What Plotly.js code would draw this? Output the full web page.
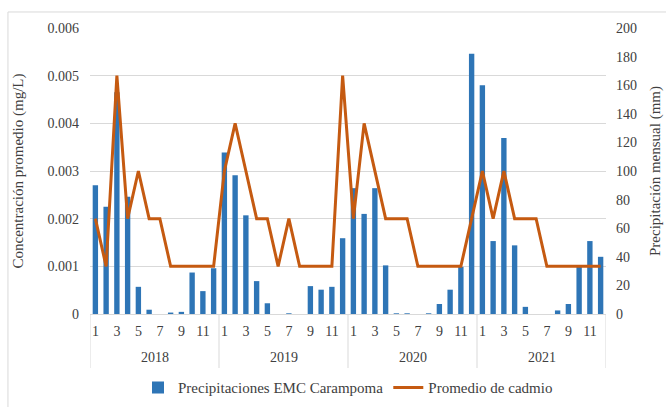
<!DOCTYPE html>
<html>
<head>
<meta charset="utf-8">
<script src="https://cdn.plot.ly/plotly-3.0.1.min.js"></script>
<style>
html,body{margin:0;padding:0;background:#fff;}
#chart{width:666px;height:407px;}
</style>
</head>
<body>
<div id="chart"></div>
<script>
var years = ['2018', '2019', '2020', '2021'];
var months = [1, 2, 3, 4, 5, 6, 7, 8, 9, 10, 11, 12];

// Precipitaciones EMC Carampoma (mm), one array per year
var precip2018 = [90, 75, 155, 82, 19, 3, 0, 1, 1.5, 29, 16, 32];
var precip2019 = [113, 97, 69, 23, 7.5, 0, 0.5, 0, 19.5, 17, 19, 53];
var precip2020 = [88, 70, 88, 34, 0.5, 0.5, 0, 0.5, 7, 17, 33, 182];
var precip2021 = [160, 51, 123, 48, 5, 0, 0, 2.5, 7, 33, 51, 40];

// Promedio de cadmio (mg/L), one array per year
var cd2018 = [0.002, 0.001, 0.005, 0.002, 0.003, 0.002, 0.002, 0.001, 0.001, 0.001, 0.001, 0.001];
var cd2019 = [0.003, 0.004, 0.003, 0.002, 0.002, 0.001, 0.002, 0.001, 0.001, 0.001, 0.001, 0.005];
var cd2020 = [0.002, 0.004, 0.003, 0.002, 0.002, 0.002, 0.001, 0.001, 0.001, 0.001, 0.001, 0.002];
var cd2021 = [0.003, 0.002, 0.003, 0.002, 0.002, 0.002, 0.001, 0.001, 0.001, 0.001, 0.001, 0.001];

var precip = [].concat(precip2018, precip2019, precip2020, precip2021);
var cadmio = [].concat(cd2018, cd2019, cd2020, cd2021);

var xs = [], tickvals = [], ticktext = [];
years.forEach(function (y, yi) {
  months.forEach(function (m, mi) {
    var idx = yi * months.length + mi;
    xs.push(idx);
    if (m % 2 === 1) { tickvals.push(idx); ticktext.push(String(m)); }
  });
});

var FONT = 'Liberation Serif';
var TXT = '#404040';
var GRID = '#d9d9d9';

var bars = {
  type: 'bar', x: xs, y: precip, name: 'Precipitaciones EMC Carampoma',
  marker: { color: '#2E75B6' }, yaxis: 'y', hoverinfo: 'skip'
};
var line = {
  type: 'scatter', mode: 'lines', x: xs, y: cadmio, name: 'Promedio de cadmio',
  line: { color: '#C55A11', width: 3 }, yaxis: 'y2', hoverinfo: 'skip'
};

var n = months.length;
var shapes = [];
for (var k = 0; k <= years.length; k++) {
  shapes.push({
    type: 'line', xref: 'x', yref: 'paper', ysizemode: 'pixel', yanchor: 0,
    x0: k * n - 0.5, x1: k * n - 0.5, y0: 0, y1: -54,
    line: { color: GRID, width: 1 }
  });
}
// outer chart frame (top and left visible)
shapes.push({ type: 'line', xref: 'paper', yref: 'paper', x0: -0.159, x1: 1.2, y0: 1.056, y1: 1.056, line: { color: GRID, width: 1 } });
shapes.push({ type: 'line', xref: 'paper', yref: 'paper', x0: -0.159, x1: -0.159, y0: 1.056, y1: -0.5, line: { color: GRID, width: 1 } });

var annotations = years.map(function (y, yi) {
  return {
    text: y, xref: 'x', yref: 'paper', x: yi * n + (n - 1) / 2, y: 0, yshift: -43,
    showarrow: false, font: { family: FONT, size: 14, color: TXT }, yanchor: 'middle'
  };
});

var layout = {
  width: 666, height: 407,
  margin: { l: 90, r: 60, t: 28, b: 93 },
  paper_bgcolor: '#fff', plot_bgcolor: '#fff',
  font: { family: FONT, size: 14, color: TXT },
  bargap: 0.5,
  showlegend: true,
  legend: {
    orientation: 'h', x: 0.5, xanchor: 'center', yref: 'container', y: 0.047, yanchor: 'middle',
    font: { family: FONT, size: 15, color: TXT }, traceorder: 'normal'
  },
  xaxis: {
    type: 'linear', range: [-0.5, xs.length - 0.5], automargin: false,
    tickmode: 'array', tickvals: tickvals, ticktext: ticktext,
    showgrid: false, zeroline: false, showline: true, linecolor: GRID, linewidth: 1,
    ticks: '', ticklabelstandoff: 4, tickfont: { family: FONT, size: 14, color: TXT }, fixedrange: true
  },
  yaxis: {
    side: 'right', range: [0, 200], dtick: 20, tick0: 0, automargin: false,
    showgrid: false, zeroline: false, showline: false, ticks: '', ticklabelstandoff: 9,
    tickfont: { family: FONT, size: 14, color: TXT },
    title: { text: 'Precipitación mensual (mm)', font: { family: FONT, size: 15, color: TXT }, standoff: 13 }
  },
  yaxis2: {
    overlaying: 'y', side: 'left', range: [0, 0.006], dtick: 0.001, tick0: 0, automargin: false,
    showgrid: true, gridcolor: GRID, gridwidth: 1, zeroline: false, showline: false, ticks: '', ticklabelstandoff: 10,
    tickfont: { family: FONT, size: 14, color: TXT },
    title: { text: 'Concentración promedio (mg/L)', font: { family: FONT, size: 15, color: TXT }, standoff: 20 }
  },
  shapes: shapes,
  annotations: annotations
};

Plotly.newPlot('chart', [bars, line], layout, { displayModeBar: false, staticPlot: true });
</script>
</body>
</html>
